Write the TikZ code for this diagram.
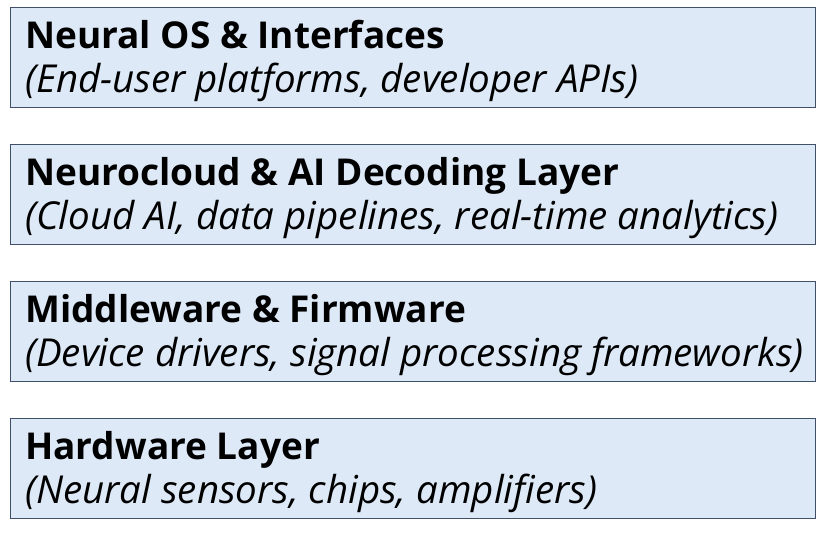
\documentclass[tikz,border=0pt]{standalone}
\usepackage{fontspec}
\setmainfont{Open Sans}
\definecolor{boxfill}{HTML}{DDE9F7}
\definecolor{boxline}{HTML}{3F5068}
\begin{document}
\begin{tikzpicture}[x=1pt,y=-1pt,
  layer/.style={draw=boxline,line width=1pt,fill=boxfill},
  ttl/.style={anchor=base west,inner sep=0pt,font=\fontsize{37}{44}\selectfont\bfseries},
  sub/.style={anchor=base west,inner sep=0pt,font=\fontsize{38.5}{44}\selectfont\itshape}]
\useasboundingbox (0,0) rectangle (832,537);
\foreach \i/\t/\s in {0/{Neural OS \& Interfaces}/{(End-user platforms, developer APIs)},
  1/{Neurocloud \& AI Decoding Layer}/{(Cloud AI, data pipelines, real-time analytics)},
  2/{Middleware \& Firmware}/{(Device drivers, signal processing frameworks)},
  3/{Hardware Layer}/{(Neural sensors, chips, amplifiers)}}{
  \path[layer] (10,{8+136.7*\i}) rectangle (815,{108+136.7*\i});
  \node[ttl] (t\i) at (25,{49+136.7*\i}) {\t};
  \node[sub] (s\i) at (25,{93+136.7*\i}) {\s};
}
\end{tikzpicture}
\end{document}
